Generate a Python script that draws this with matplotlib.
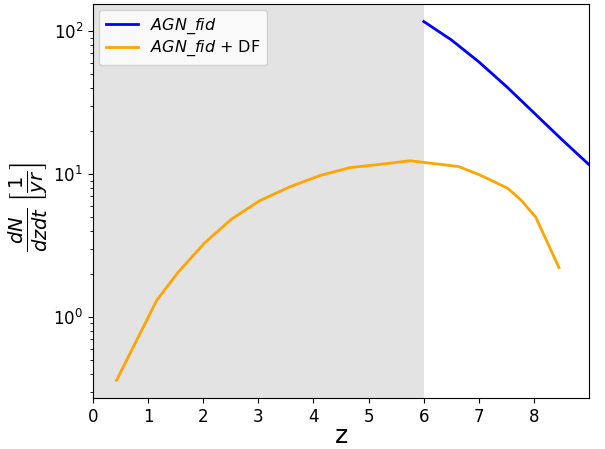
import matplotlib
matplotlib.use("Agg")
import matplotlib.pyplot as plt

# Data
z_fid = [6.0, 6.5, 7.0, 7.5, 8.0, 8.5, 9.0]
rate_fid = [117, 87, 61, 41, 26.8, 17.5, 11.6]

z_df = [0.43, 1.16, 1.54, 2.02, 2.52, 3.03, 3.56, 4.12, 4.66, 5.2, 5.75,
        6.63, 7.01, 7.52, 7.77, 8.03, 8.45]
rate_df = [0.36, 1.31, 2.04, 3.28, 4.86, 6.53, 8.11, 9.78, 11.1, 11.7, 12.4,
           11.3, 9.89, 7.97, 6.53, 4.99, 2.22]

label_fid = r'$AGN\_fid$'
label_df = r'$AGN\_fid$ + DF'
xticks = [0, 1, 2, 3, 4, 5, 6, 7, 8]

fig = plt.figure(figsize=(6.05, 4.49), dpi=100)
ax = fig.add_axes([0.1534, 0.113, 0.8206, 0.879])

ax.axvspan(0, 6, color='#e3e3e3', lw=0, zorder=0)
ax.plot(z_fid, rate_fid, color='blue', lw=2, label=label_fid)
ax.plot(z_df, rate_df, color='orange', lw=2, label=label_df)

ax.set_yscale('log')
ax.set_xlim(0, 9)
ax.set_xticks(xticks)
ax.tick_params(labelsize=12)
ax.set_xlabel('z', fontsize=18, labelpad=-1.5)
ax.set_ylabel(r'$\frac{dN}{dzdt}\,\left[\frac{1}{yr}\right]$', fontsize=20)
ax.yaxis.set_label_coords(-0.086, 0.485)
ax.legend(loc='upper left', fontsize=11.5, labelspacing=0.2,
          borderaxespad=0.4)

fig.savefig('out.png', dpi=100)
